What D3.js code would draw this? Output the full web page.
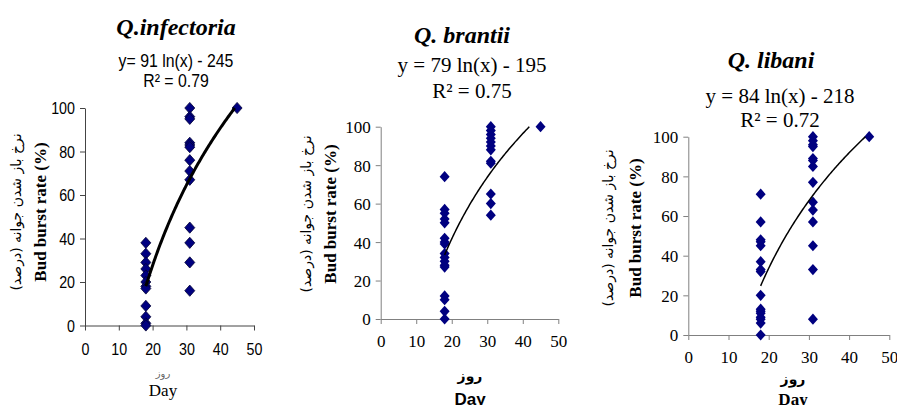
<!DOCTYPE html>
<html>
<head>
<meta charset="utf-8">
<script src="https://cdn.jsdelivr.net/npm/d3@7/dist/d3.min.js"></script>
<style>
  body { margin: 0; background: #fff; }
  svg { display: block; }
</style>
</head>
<body>
<div id="chart"></div>
<script>
// ---- data ----
const xTicks = [0, 10, 20, 30, 40, 50];
const yTicks = [0, 20, 40, 60, 80, 100];

const species = ["Q.infectoria", "Q. brantii", "Q. libani"];
const equations = ["y= 91 ln(x) - 245", "y = 79 ln(x) - 195", "y = 84 ln(x) - 218"];
const rSquared = ["R\u00B2 = 0.79", "R\u00B2 = 0.75", "R\u00B2 = 0.72"];
const trendA = [91, 79, 84];
const trendB = [-245, -195, -218];
const trendStart = [18, 18, 18];

const days = [18, 31, 45];
const infectoria18 = [38, 33, 29, 26, 23, 20, 18, 17, 9, 4, 1, 0];
const infectoria31 = [100, 96, 95, 84, 83, 82, 76, 71, 67, 45, 38, 29, 16];
const infectoria45 = [100];
const brantii18 = [74, 57, 55, 52, 50, 42, 40, 39, 34, 32, 30, 28, 27, 12, 10, 4, 0];
const brantii31 = [100, 98, 96, 94, 92, 90, 88, 82, 81, 65, 60, 54];
const brantii45 = [100];
const libani18 = [71, 57, 48, 47, 45, 37, 33, 32, 20, 13, 12, 11, 9, 8, 6, 0];
const libani31 = [100, 98, 96, 95, 89, 88, 85, 77, 67, 63, 57, 45, 33, 8];
const libani45 = [100];

const yLabelFa = "نرخ باز شدن جوانه (درصد)";
const yLabelEn = "Bud burst rate (%)";
const xLabelFa = "روز";
const xLabelEn = "Day";

// ---- layout / style per panel ----
const sansFont = "'Liberation Sans',Arial,sans-serif";
const serifFont = "'Liberation Serif','Times New Roman',serif";

const panels = [
  {
    groups: [infectoria18, infectoria31, infectoria45],
    x0: 85, x1: 254, yTop: 108, yBot: 325.5,
    cx: 176, titleY: 35, eqY: 67, r2Y: 87, eqFont: sansFont, eqSize: 18, eqSqueeze: 0.88, squeeze: 0.84,
    tickFont: sansFont, tickSize: 17, xTickY: 355,
    axisColor: "#444", lineWidth: 3, markerStroke: "#000033",
    faLabelX: 16, enLabelX: 40, labelCy: 212,
    xLabCx: 163, xFaY: 377, xFaSize: 10, xFaColor: "#666", xEnY: 396, xEnFont: serifFont, xEnWeight: "normal"
  },
  {
    groups: [brantii18, brantii31, brantii45],
    x0: 380.7, x1: 558.3, yTop: 126.7, yBot: 319,
    cx: 462, titleY: 43, eqCx: 472, eqY: 72, r2Y: 98, eqFont: serifFont, eqSize: 21, eqSqueeze: 1, squeeze: 1,
    tickFont: serifFont, tickSize: 17, xTickY: 347,
    axisColor: "#808080", lineWidth: 1.5, markerStroke: "none",
    faLabelX: 306, enLabelX: 330, labelCy: 214,
    xLabCx: 470, xFaY: 381, xFaSize: 14, xFaColor: "#000", xEnY: 405, xEnFont: sansFont, xEnWeight: "bold"
  },
  {
    groups: [libani18, libani31, libani45],
    x0: 688.3, x1: 889.3, yTop: 136.7, yBot: 335,
    cx: 771, titleY: 68, eqCx: 780, eqY: 103, r2Y: 127, eqFont: serifFont, eqSize: 21, eqSqueeze: 1, squeeze: 1,
    tickFont: serifFont, tickSize: 17, xTickY: 363,
    axisColor: "#808080", lineWidth: 1.5, markerStroke: "none",
    faLabelX: 608, enLabelX: 635, labelCy: 228,
    xLabCx: 793, xFaY: 384, xFaSize: 14, xFaColor: "#000", xEnY: 405, xEnFont: serifFont, xEnWeight: "bold"
  }
];

const svg = d3.select("#chart").append("svg")
  .attr("width", 897)
  .attr("height", 405);

// Excel style diamond, a little taller than wide
const diamondPath = "M0,-5.6L5,0L0,5.6L-5,0Z";

panels.forEach(function(p, i) {
  const x = d3.scaleLinear().domain([0, 50]).range([p.x0, p.x1]);
  const y = d3.scaleLinear().domain([0, 100]).range([p.yBot, p.yTop]);
  const g = svg.append("g");

  // axes
  const yAxis = d3.axisLeft(y).tickValues(yTicks).tickSize(5).tickSizeOuter(0).tickPadding(5);
  const xAxis = d3.axisBottom(x).tickValues(xTicks).tickSize(5).tickSizeOuter(0).tickPadding(7);

  const ya = g.append("g").attr("transform", "translate(" + p.x0 + ",0)").call(yAxis);
  const xa = g.append("g").attr("transform", "translate(0," + p.yBot + ")").call(xAxis);

  [ya, xa].forEach(function(a) {
    a.selectAll("path, line").attr("stroke", p.axisColor);
    a.selectAll("text")
      .attr("fill", "#000")
      .style("font-family", p.tickFont)
      .style("font-size", p.tickSize + "px");
  });
  xa.selectAll("text").attr("dy", null).attr("y", p.xTickY - p.yBot);
  ya.selectAll("text").attr("dy", "0.35em");
  if (p.squeeze !== 1) {
    // condensed look of the first panel's labels
    xa.selectAll("text").attr("transform", "scale(" + p.squeeze + ",1)");
    ya.selectAll("text").attr("x", -10 / p.squeeze).attr("transform", "scale(" + p.squeeze + ",1)");
  }

  // points
  const pts = [];
  p.groups.forEach(function(vals, k) {
    vals.forEach(function(v) { pts.push({ day: days[k], v: v }); });
  });

  // trendline from the printed equation
  const a = trendA[i], b = trendB[i];
  const xEnd = Math.exp((100 - b) / a);
  const curve = d3.range(trendStart[i], xEnd, 0.25).concat([xEnd]).map(function(d) {
    return [d, a * Math.log(d) + b];
  });

  g.selectAll(".pt")
    .data(pts)
    .enter().append("path")
    .attr("class", "pt")
    .attr("d", diamondPath)
    .attr("transform", function(d) { return "translate(" + x(d.day) + "," + y(d.v) + ")"; })
    .attr("fill", "#000080")
    .attr("stroke", p.markerStroke)
    .attr("stroke-width", 0.8);

  g.append("path")
    .datum(curve)
    .attr("fill", "none")
    .attr("stroke", "#000")
    .attr("stroke-width", p.lineWidth)
    .attr("d", d3.line().x(function(d) { return x(d[0]); }).y(function(d) { return y(d[1]); }));

  // title and equation
  g.append("text")
    .attr("x", p.cx).attr("y", p.titleY)
    .attr("text-anchor", "middle")
    .style("font-family", serifFont)
    .style("font-weight", "bold").style("font-style", "italic")
    .style("font-size", "24px")
    .text(species[i]);

  const ecx = p.eqCx || p.cx;
  [[equations[i], p.eqY], [rSquared[i], p.r2Y]].forEach(function(t) {
    g.append("text")
      .attr("transform", "translate(" + ecx + "," + t[1] + ") scale(" + p.eqSqueeze + ",1)")
      .attr("text-anchor", "middle")
      .style("font-family", p.eqFont).style("font-size", p.eqSize + "px")
      .text(t[0]);
  });

  // y labels
  g.append("text")
    .attr("transform", "translate(" + p.faLabelX + "," + p.labelCy + ") rotate(-90)")
    .attr("text-anchor", "middle").attr("dy", "0.35em")
    .style("font-family", "'DejaVu Sans',sans-serif").style("font-size", "14px")
    .text(yLabelFa);
  g.append("text")
    .attr("transform", "translate(" + p.enLabelX + "," + p.labelCy + ") rotate(-90)")
    .attr("text-anchor", "middle").attr("dy", "0.35em")
    .style("font-family", serifFont)
    .style("font-weight", "bold").style("font-size", "17px")
    .text(yLabelEn);

  // x labels
  g.append("text")
    .attr("x", p.xLabCx).attr("y", p.xFaY)
    .attr("text-anchor", "middle")
    .attr("fill", p.xFaColor)
    .style("font-family", "'DejaVu Sans',sans-serif").style("font-size", p.xFaSize + "px")
    .style("font-weight", i === 0 ? "normal" : "bold")
    .text(xLabelFa);
  g.append("text")
    .attr("x", p.xLabCx).attr("y", p.xEnY)
    .attr("text-anchor", "middle")
    .style("font-family", p.xEnFont).style("font-weight", p.xEnWeight)
    .style("font-size", "17px")
    .text(xLabelEn);
});
</script>
</body>
</html>
